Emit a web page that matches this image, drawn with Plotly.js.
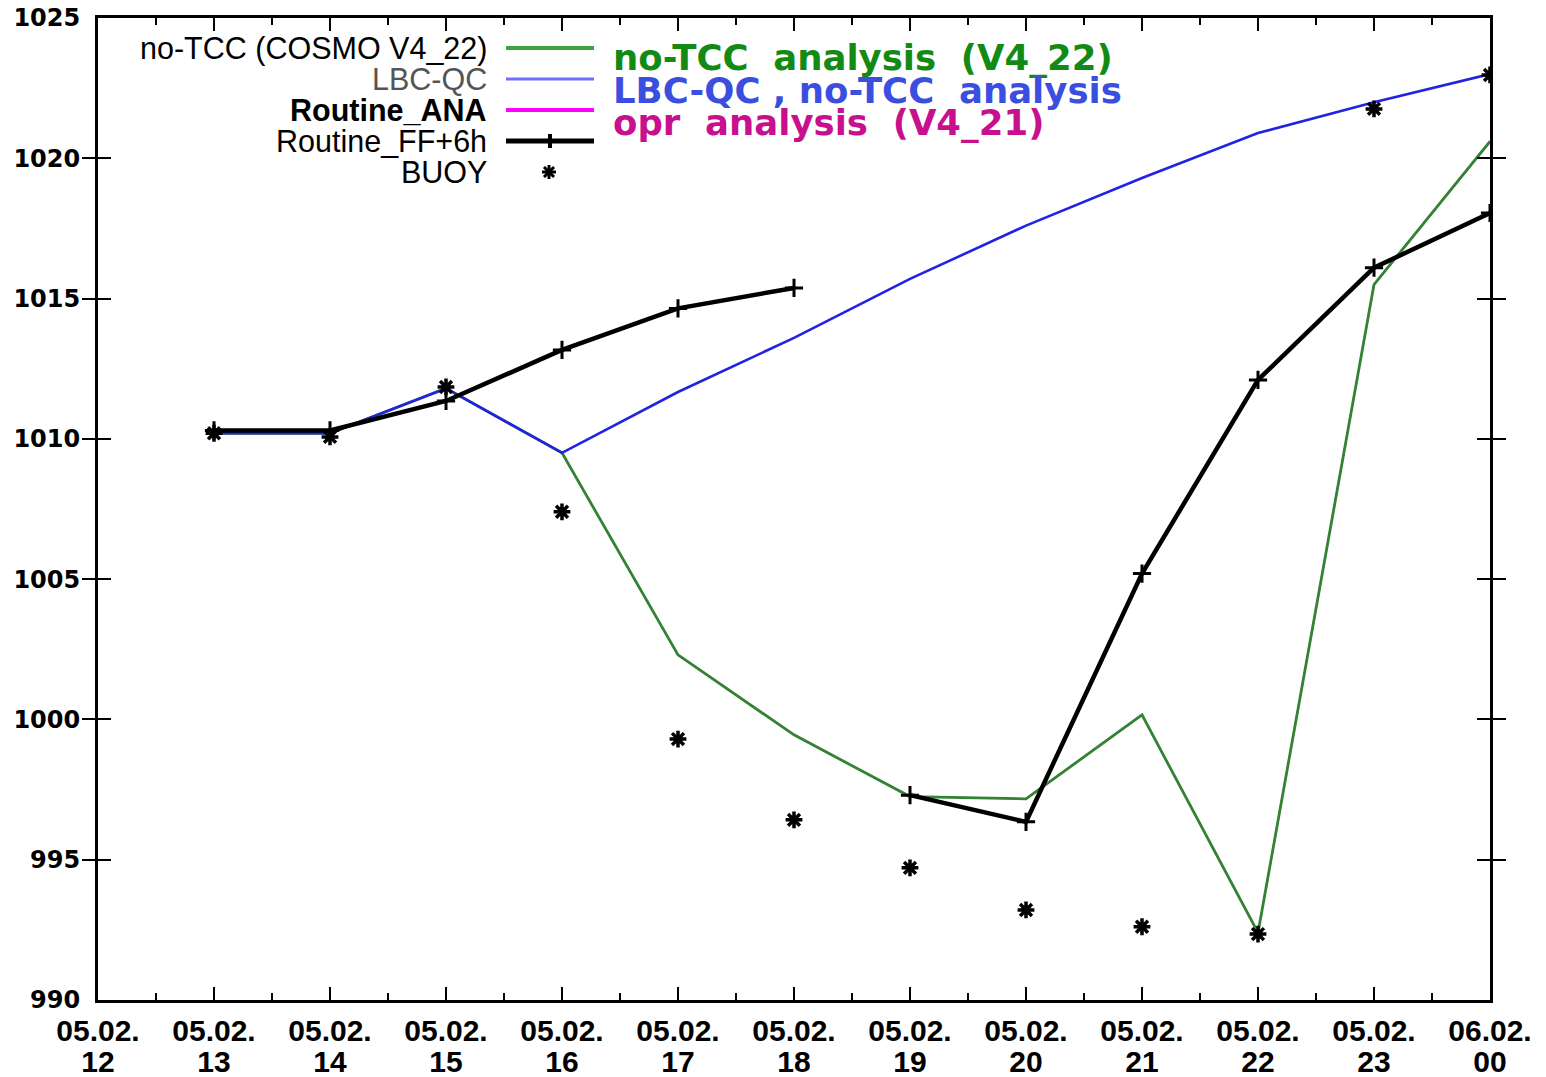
<!DOCTYPE html>
<html>
<head>
<meta charset="utf-8">
<script src="https://cdn.plot.ly/plotly-3.0.1.min.js"></script>
<style>html,body{margin:0;padding:0;background:#fff;}#chart{width:1546px;height:1077px;}</style>
</head>
<body>
<div id="chart"></div>
<script>
// ---- data (hour of 05.02; 24 = 06.02 00) ----
const hours = [12, 13, 14, 15, 16, 17, 18, 19, 20, 21, 22, 23, 24];
const dayLabels = ["05.02.","05.02.","05.02.","05.02.","05.02.","05.02.","05.02.","05.02.","05.02.","05.02.","05.02.","05.02.","06.02."];
const hourLabels = ["12","13","14","15","16","17","18","19","20","21","22","23","00"];

const noTccX = [13, 14, 15, 16, 17, 18, 19, 20, 21, 22, 23, 24];
const noTccY = [1010.2, 1010.2, 1011.8, 1009.5, 1002.3, 999.45, 997.25, 997.17, 1000.16, 992.4, 1015.5, 1020.6];

const routineAnaX = [13, 14, 15, 16, 17, 18, 19, 20, 21, 22, 23, 24];
const routineAnaY = [1010.2, 1010.2, 1011.8, 1009.5, 1002.3, 999.45, 997.25, 997.17, 1000.16, 992.4, 1015.5, 1020.6];

const lbcX = [13, 14, 15, 16, 17, 18, 19, 20, 21, 22, 23, 24];
const lbcY = [1010.2, 1010.2, 1011.8, 1009.5, 1011.67, 1013.6, 1015.7, 1017.6, 1019.3, 1020.9, 1022.0, 1023.0];

const ffX = [13, 14, 15, 16, 17, 18, null, 19, 20, 21, 22, 23, 24];
const ffY = [1010.3, 1010.3, 1011.35, 1013.17, 1014.65, 1015.38, null, 997.3, 996.35, 1005.2, 1012.1, 1016.1, 1018.05];

const buoyX = [13, 14, 15, 16, 17, 18, 19, 20, 21, 22, 23, 24];
const buoyY = [1010.2, 1010.07, 1011.85, 1007.4, 999.3, 996.42, 994.71, 993.21, 992.61, 992.35, 1021.76, 1022.97];

const legendNames = ["no-TCC (COSMO V4_22)", "LBC-QC", "Routine_ANA", "Routine_FF+6h", "BUOY"];
const noteTexts = ["no-TCC\u00a0 analysis\u00a0 (V4_22)", "LBC-QC , no-TCC\u00a0 analysis", "opr\u00a0 analysis\u00a0 (V4_21)"];

// ---- layout geometry ----
const W = 1546, H = 1077;
const M = {l: 98, r: 56, t: 18, b: 77};
const PW = W - M.l - M.r, PH = H - M.t - M.b;
const px = x => (x - M.l) / PW;
const py = y => (H - M.b - y) / PH;

const traces = [
  {x: routineAnaX, y: routineAnaY, mode: 'lines', line: {color: '#ff00ff', width: 1.5}, showlegend: false, hoverinfo: 'skip'},
  {x: noTccX, y: noTccY, mode: 'lines', line: {color: '#348234', width: 2.8}, showlegend: false},
  {x: lbcX, y: lbcY, mode: 'lines', line: {color: '#2222e4', width: 2.6}, showlegend: false},
  {x: ffX, y: ffY, mode: 'lines+markers', connectgaps: false, line: {color: '#000', width: 4.5},
   marker: {symbol: 'cross-thin-open', size: 13, color: '#000', line: {color: '#000', width: 3}}, showlegend: false},
  {x: buoyX, y: buoyY, mode: 'markers', marker: {symbol: 'asterisk-open', size: 14, color: '#000', line: {color: '#000', width: 3.5}}, showlegend: false}
];

const legendColors = ['#000', '#555', '#000', '#000', '#000'];
const legendWeights = ['normal', 'normal', 'bold', 'normal', 'normal'];
const legendY = [48, 79, 110, 141, 172];
const annotations = [];
legendNames.forEach((n, i) => {
  annotations.push({xref: 'paper', yref: 'paper', x: px(489), y: py(legendY[i]), xanchor: 'right', yanchor: 'middle',
    text: n, showarrow: false, font: {family: 'Liberation Sans, Arial', size: 30.5, color: legendColors[i], weight: legendWeights[i]}});
});
const noteColors = ['#138a13', '#3a4fe0', '#c80f8e'];
const noteY = [57, 90, 122];
noteTexts.forEach((t, i) => {
  annotations.push({xref: 'paper', yref: 'paper', x: px(611), y: py(noteY[i]), xanchor: 'left', yanchor: 'middle',
    text: t, showarrow: false, font: {family: 'DejaVu Sans', size: 35.5, color: noteColors[i], weight: 'bold'}});
});

const shapes = [];
const keyCols = ['#3aa53a', '#6f6fff', '#ff00ff', '#000'];
const keyW = [4, 3, 4, 5];
for (let i = 0; i < 4; i++) {
  shapes.push({type: 'line', xref: 'paper', yref: 'paper', x0: px(506), x1: px(594), y0: py(legendY[i]), y1: py(legendY[i]),
    line: {color: keyCols[i], width: keyW[i]}});
}
shapes.push({type: 'line', xref: 'paper', yref: 'paper', x0: px(550), x1: px(550), y0: py(legendY[3] - 7), y1: py(legendY[3] + 7), line: {color: '#000', width: 4}});
const cx = 549, cy = legendY[4], r = 7, d = 5;
[[-r,0,r,0],[0,-r,0,r],[-d,-d,d,d],[-d,d,d,-d]].forEach(s => {
  shapes.push({type: 'line', xref: 'paper', yref: 'paper', x0: px(cx + s[0]), y0: py(cy + s[1]), x1: px(cx + s[2]), y1: py(cy + s[3]), line: {color: '#000', width: 3}});
});

const tickFontX = {family: 'Liberation Sans, Arial', size: 30, color: '#000', weight: 'bold'};
const layout = {
  width: W, height: H,
  margin: M,
  paper_bgcolor: '#fff', plot_bgcolor: '#fff',
  showlegend: false,
  xaxis: {
    range: [12, 24], tickvals: hours, ticktext: dayLabels,
    showgrid: false, zeroline: false, showline: true, linecolor: '#000', linewidth: 3, mirror: 'allticks',
    ticks: 'inside', ticklen: 13, tickwidth: 2, tickcolor: '#000',
    minor: {dtick: 0.5, tick0: 12, ticks: 'inside', ticklen: 7, tickwidth: 2, tickcolor: '#000', showgrid: false},
    tickfont: tickFontX,
    ticklabelstandoff: 2
  },
  xaxis2: {
    overlaying: 'x', anchor: 'y', side: 'bottom',
    range: [12, 24], tickvals: hours, ticktext: hourLabels,
    showgrid: false, zeroline: false, showline: false, ticks: '',
    tickfont: tickFontX,
    ticklabelstandoff: 41
  },
  yaxis: {
    range: [990, 1025], tick0: 990, dtick: 5,
    showgrid: false, zeroline: false, showline: true, linecolor: '#000', linewidth: 3, mirror: 'allticks',
    ticks: 'inside', ticklen: 13, tickwidth: 2, tickcolor: '#000',
    tickfont: {family: 'DejaVu Sans', size: 24, color: '#000', weight: 'bold'},
    ticklabelstandoff: 10
  },
  annotations: annotations,
  shapes: shapes
};

traces.push({x: [], y: [], xaxis: 'x2', yaxis: 'y', showlegend: false, hoverinfo: 'skip'});

Plotly.newPlot('chart', traces, layout, {displayModeBar: false, staticPlot: true});
</script>
</body>
</html>
